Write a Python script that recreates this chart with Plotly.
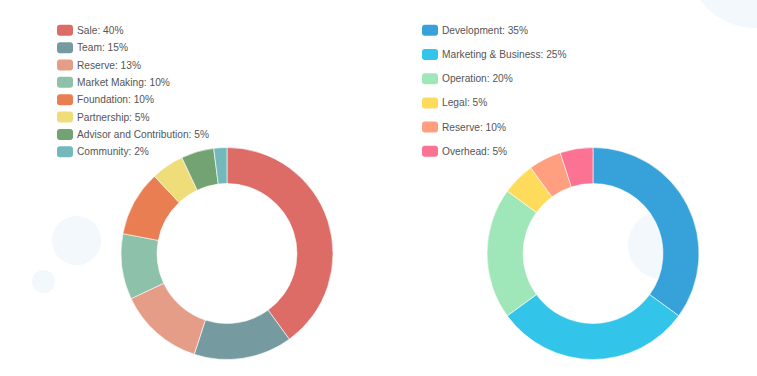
import plotly.graph_objects as go

W, H = 757, 376

# ---- data ----
left_labels = ["Sale", "Team", "Reserve", "Market Making", "Foundation",
               "Partnership", "Advisor and Contribution", "Community"]
left_values = [40, 15, 13, 10, 10, 5, 5, 2]
left_legend_pct = [40, 15, 13, 10, 10, 5, 5, 2]
left_colors = ["#dd6b66", "#759aa0", "#e69d87", "#8dc1a9", "#ea7e53",
               "#eedd78", "#73a373", "#73b9bc"]

right_labels = ["Development", "Marketing & Business", "Operation", "Legal",
                "Reserve", "Overhead"]
# slice sizes as drawn in the picture
right_values = [35, 30, 20, 5, 5, 5]
# percentages as printed in the legend
right_legend_pct = [35, 25, 20, 5, 10, 5]
right_colors = ["#37a2da", "#32c5e9", "#9fe6b8", "#ffdb5c", "#ff9f7f", "#fb7293"]


def px(x):
    return x / W


def py(y):
    return 1 - y / H


R = 106
def domain(cx, cy):
    return dict(x=[px(cx - R), px(cx + R)], y=[py(cy + R), py(cy - R)])


fig = go.Figure()
fig.add_trace(go.Pie(
    labels=left_labels, values=left_values, hole=0.66, sort=False,
    direction="clockwise", rotation=0, textinfo="none",
    marker=dict(colors=left_colors, line=dict(color="white", width=0.6)),
    domain=domain(227, 253.5), showlegend=False,
    hovertemplate="%{label}: %{value}%<extra></extra>",
))
fig.add_trace(go.Pie(
    labels=right_labels, values=right_values, hole=0.66, sort=False,
    direction="clockwise", rotation=0, textinfo="none",
    marker=dict(colors=right_colors, line=dict(color="white", width=0.6)),
    domain=domain(593, 253.5), showlegend=False,
    hovertemplate="%{label}<extra></extra>",
))

shapes = []
annotations = []

# decorative background circles
BG = "#f3f8fd"
for (cx, cy, r) in [(76.5, 240.5, 24.5), (43.5, 281.5, 11.5),
                    (755, -40, 68), (662, 245, 34)]:
    shapes.append(dict(type="circle", xref="paper", yref="paper",
                       x0=px(cx - r), x1=px(cx + r), y0=py(cy + r), y1=py(cy - r),
                       fillcolor=BG, line=dict(width=0), layer="below"))


def rounded_rect(x0, y0, x1, y1, r):
    return (f"M {px(x0 + r)},{py(y0)} L {px(x1 - r)},{py(y0)} "
            f"Q {px(x1)},{py(y0)} {px(x1)},{py(y0 + r)} "
            f"L {px(x1)},{py(y1 - r)} Q {px(x1)},{py(y1)} {px(x1 - r)},{py(y1)} "
            f"L {px(x0 + r)},{py(y1)} Q {px(x0)},{py(y1)} {px(x0)},{py(y1 - r)} "
            f"L {px(x0)},{py(y0 + r)} Q {px(x0)},{py(y0)} {px(x0 + r)},{py(y0)} Z")


FONT = "Liberation Sans, Arial, sans-serif"


def add_legend(labels, pcts, colors, x_sw, y_first, step):
    for i, (lab, val, col) in enumerate(zip(labels, pcts, colors)):
        yc = y_first + i * step
        shapes.append(dict(type="path", xref="paper", yref="paper",
                           path=rounded_rect(x_sw, yc - 5.5, x_sw + 16, yc + 5.5, 3),
                           fillcolor=col, line=dict(width=0)))
        annotations.append(dict(
            text=f"{lab}: {val}%", xref="paper", yref="paper",
            x=px(x_sw + 18), y=py(yc), xanchor="left", yanchor="middle",
            showarrow=False, font=dict(size=10.2, color="#555555", family=FONT)))


add_legend(left_labels, left_legend_pct, left_colors, 57, 30.3, 17.35)
add_legend(right_labels, right_legend_pct, right_colors, 422, 30.3, 24.2)

fig.update_layout(
    width=W, height=H, margin=dict(l=0, r=0, t=0, b=0),
    paper_bgcolor="white", plot_bgcolor="white",
    shapes=shapes, annotations=annotations, showlegend=False,
)

fig.write_html("out.html", config={"displayModeBar": False},
               post_script="document.body.style.margin='0';document.body.style.overflow='hidden';")
